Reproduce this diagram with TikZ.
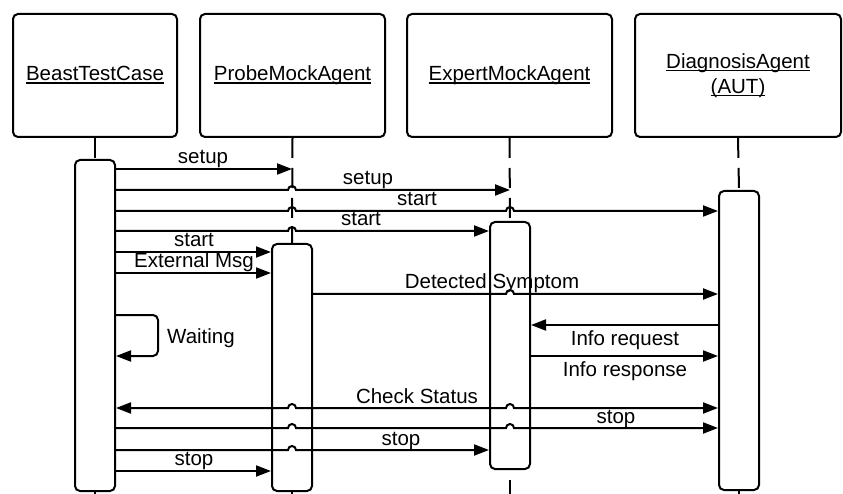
\documentclass[tikz,border=0pt]{standalone}
\usepackage{fontspec}
\setmainfont{Liberation Sans}
\usetikzlibrary{arrows.meta,calc}
\newcommand\myul[1]{\setbox0\hbox{#1}\rlap{\rule[-2.6pt]{\wd0}{1.3pt}}\box0}
\begin{document}
\begin{tikzpicture}[x=1pt,y=-1pt,
  every node/.style={font=\fontsize{20.5}{25}\selectfont, inner sep=0pt},
  head/.style={draw, line width=2pt, rounded corners=5pt, minimum height=123pt},
  headone/.style={head, text height=15pt, text depth=4pt},
  act/.style={draw, line width=2pt, rounded corners=5pt, fill=white, minimum width=40pt},
  life/.style={line width=2pt, dash pattern=on 20pt off 10pt},
  tip/.tip={Triangle[length=15pt,width=11pt]},
  msg/.style={line width=2pt, -tip},
  msgboth/.style={line width=2pt, tip-tip},
  lbl/.style={anchor=base},
]
\useasboundingbox (0,0) rectangle (843,494);

% header boxes
\node[headone, minimum width=164pt] (h1) at (95,75.5) {\myul{BeastTestCase}};
\node[headone, minimum width=185pt] (h2) at (292.5,75.5) {\myul{ProbeMockAgent}};
\node[headone, minimum width=205pt] (h3) at (509.5,75.5) {\myul{ExpertMockAgent}};
\node[head, minimum width=206pt, align=center] (h4) at (738,75.5) {\myul{DiagnosisAgent}\\\myul{(AUT)}};

% bottom ends
\coordinate (bot) at (0,494);

% activation boxes (positions)
\path (95,325.5) coordinate (c1) (292,367.5) coordinate (c2) (510,345.5) coordinate (c3) (739,340.5) coordinate (c4);

% lifelines
\draw[life] (h1.south) -- (c1 |- 0,159);
\draw[life] (h2.south) -- (c2 |- 0,243);
\draw[life] (h3.south) -- (c3 |- 0,221);
\draw[life] (h4.south) -- (c4 |- 0,190);

\node[act, minimum height=331pt] (a1) at (c1) {};
\node[act, minimum height=247pt] (a2) at (c2) {};
\node[act, minimum height=247pt] (a3) at (c3) {};
\node[act, minimum height=299pt] (a4) at (c4) {};

\draw[line width=2pt] (a1.south) -- (a1.south |- bot);
\draw[line width=2pt] (a2.south) -- (a2.south |- bot);
\draw[life, dash phase=20pt] (a3.south) -- (a3.south |- bot);
\draw[line width=2pt] (a4.south) -- (a4.south |- bot);

% message rows
\coordinate (r1) at (0,169);
\coordinate (r2) at (0,190);
\coordinate (r3) at (0,211);
\coordinate (r4) at (0,231);
\coordinate (r5) at (0,252);
\coordinate (r6) at (0,273);
\coordinate (r7) at (0,294);
\coordinate (rw1) at (0,315);
\coordinate (rw2) at (0,356);
\coordinate (r8) at (0,325);
\coordinate (r9) at (0,356);
\coordinate (r10) at (0,408);
\coordinate (r11) at (0,428);
\coordinate (r12) at (0,450);
\coordinate (r13) at (0,471);

% messages
\draw[msg] (a1.east |- r1) -- (a2.center |- r1);
\draw[msg] (a1.east |- r2) -- ($(a2.center |- r2)+(-4pt,0)$) arc[start angle=180,end angle=0,radius=4pt] -- (a3.center |- r2);
\draw[msg] (a1.east |- r3) -- ($(a2.center |- r3)+(-4pt,0)$) arc[start angle=180,end angle=0,radius=4pt]
  -- ($(a3.center |- r3)+(-4pt,0)$) arc[start angle=180,end angle=0,radius=4pt] -- (a4.west |- r3);
\draw[msg] (a1.east |- r4) -- ($(a2.center |- r4)+(-4pt,0)$) arc[start angle=180,end angle=0,radius=4pt] -- (a3.west |- r4);
\draw[msg] (a1.east |- r5) -- (a2.west |- r5);
\draw[msg] (a1.east |- r6) -- (a2.west |- r6);
\draw[msg] (a2.east |- r7) -- ($(a3.center |- r7)+(-4pt,0)$) arc[start angle=180,end angle=0,radius=4pt] -- (a4.west |- r7);
\draw[msg, rounded corners=5pt] (a1.east |- rw1) -- ++(42pt,0) |- (a1.east |- rw2);
\draw[msg] (a4.west |- r8) -- (a3.east |- r8);
\draw[msg] (a3.east |- r9) -- (a4.west |- r9);
\draw[msgboth] (a1.east |- r10) -- ($(a2.center |- r10)+(-4pt,0)$) arc[start angle=180,end angle=0,radius=4pt]
  -- ($(a3.center |- r10)+(-4pt,0)$) arc[start angle=180,end angle=0,radius=4pt] -- (a4.west |- r10);
\draw[msg] (a1.east |- r11) -- ($(a2.center |- r11)+(-4pt,0)$) arc[start angle=180,end angle=0,radius=4pt]
  -- ($(a3.center |- r11)+(-4pt,0)$) arc[start angle=180,end angle=0,radius=4pt] -- (a4.west |- r11);
\draw[msg] (a1.east |- r12) -- ($(a2.center |- r12)+(-4pt,0)$) arc[start angle=180,end angle=0,radius=4pt] -- (a3.west |- r12);
\draw[msg] (a1.east |- r13) -- (a2.west |- r13);

% labels
\node[lbl] (t1) at (203,164) {setup};
\node[lbl] (t2) at (368,185) {setup};
\node[lbl] (t3) at (417,206) {start};
\node[lbl] (t4) at (361,226) {start};
\node[lbl] (t5) at (194,247) {start};
\node[lbl] (t6) at (194,268) {External Msg};
\node[lbl] (t7) at (492,289) {Detected Symptom};
\node[anchor=base west] (tw) at (167,343) {Waiting};
\node[lbl] (t8) at (625,345) {Info request};
\node[lbl] (t9) at (625,376) {Info response};
\node[lbl] (t10) at (417,403) {Check Status};
\node[lbl] (t11) at (616,423) {stop};
\node[lbl] (t12) at (401,445) {stop};
\node[lbl] (t13) at (194,465) {stop};
\end{tikzpicture}
\end{document}
